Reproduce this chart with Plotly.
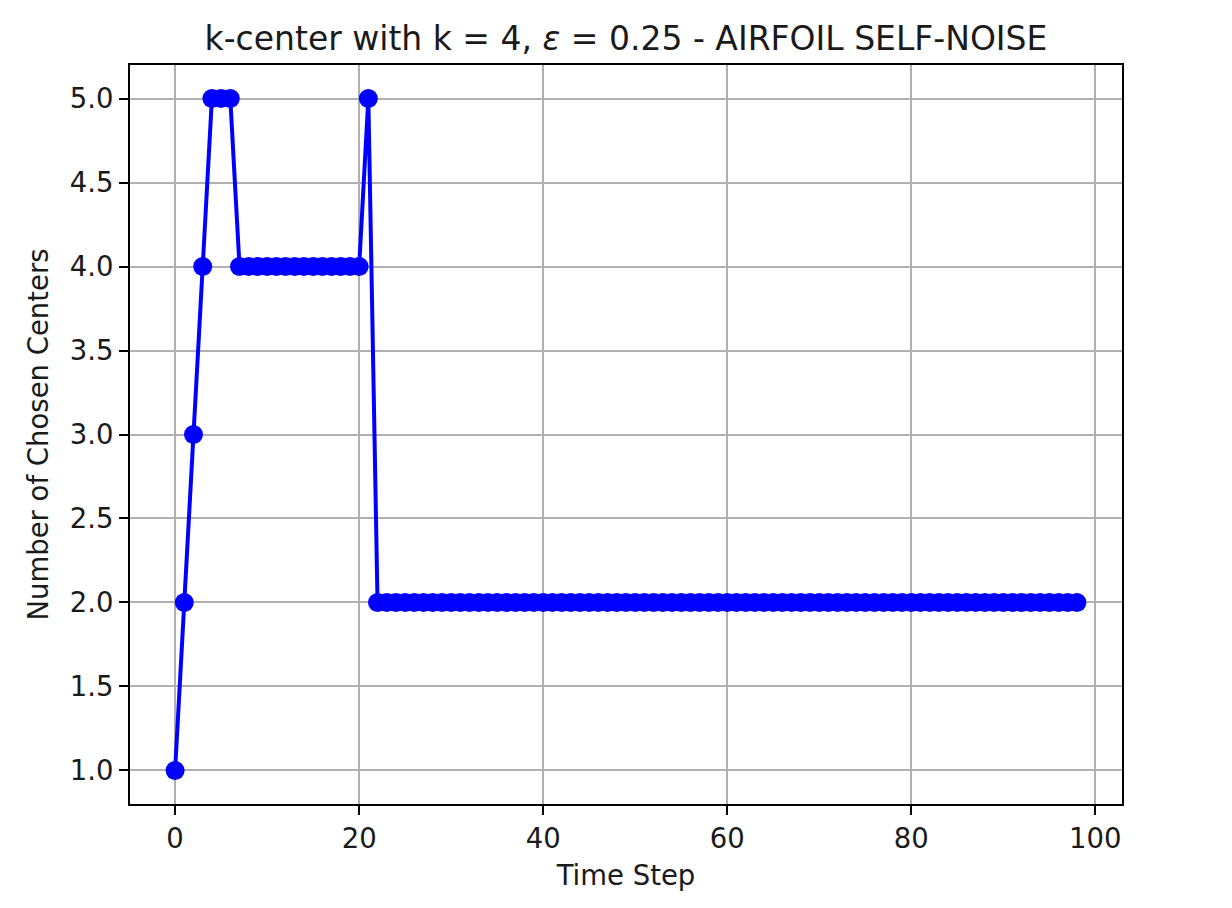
import plotly.graph_objects as go

# number of chosen centers at each time step
time_steps = list(range(99))
chosen_centers = [1, 2, 3, 4, 5, 5, 5] + [4] * 14 + [5] + [2] * 77

title_text = "k-center with k = 4, <i>ε</i> = 0.25 - AIRFOIL SELF-NOISE"
x_ticks = [0, 20, 40, 60, 80, 100]
y_ticks = [1.0, 1.5, 2.0, 2.5, 3.0, 3.5, 4.0, 4.5, 5.0]

fig = go.Figure()
fig.add_trace(go.Scatter(x=time_steps, y=chosen_centers, mode='lines+markers',
                         line=dict(color='blue', width=4),
                         marker=dict(color='blue', size=19)))

axis_style = dict(showline=True, linecolor='black', linewidth=2, mirror=True,
                  ticks='outside', ticklen=9, tickwidth=2, tickcolor='black',
                  showgrid=True, gridcolor='#b0b0b0', gridwidth=2,
                  zeroline=False, tickfont=dict(size=27.5, color='#1a1a1a'),
                  title_font=dict(size=27.5, color='#1a1a1a'))

# page body has an 8px margin, so the figure is a bit smaller than the window
fig.update_layout(
    width=1216, height=892,
    margin=dict(l=122, r=102, t=57, b=96),
    plot_bgcolor='white', paper_bgcolor='white',
    font=dict(family='DejaVu Sans', color='#1a1a1a'),
    showlegend=False,
    title=dict(text=title_text, x=(122 + 1114) / 2 / 1216, xanchor='center',
               y=1 - 42 / 892, yanchor='bottom', font=dict(size=33, color='#1a1a1a')),
)
fig.update_xaxes(range=[-4.9, 102.9], tickvals=x_ticks, title_text='Time Step',
                 title_standoff=13, **axis_style)
fig.update_yaxes(range=[0.8, 5.2], tickvals=y_ticks, tickformat='.1f',
                 title_text='Number of Chosen Centers', title_standoff=13, **axis_style)

fig.write_html("out.html")
